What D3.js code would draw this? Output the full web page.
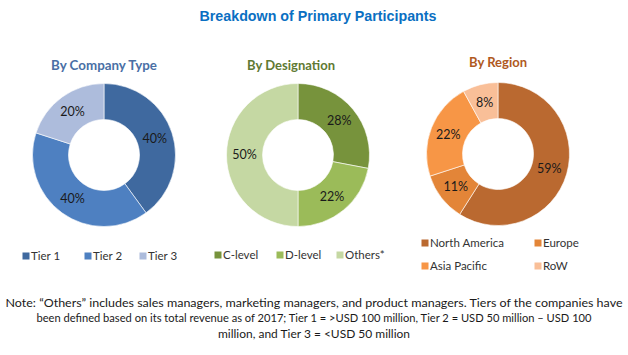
<!DOCTYPE html>
<html><head><meta charset="utf-8">
<script src="https://cdn.jsdelivr.net/npm/d3@7"></script>
<style>
html,body{margin:0;padding:0;background:#fff;}
svg{display:block;}
</style></head>
<body>
<svg id="c" width="628" height="355"></svg>
<script>
const title = "Breakdown of Primary Participants";
const companyCategories = ["Tier 1", "Tier 2", "Tier 3"];
const companyValues = [40, 40, 20];
const designationCategories = ["C-level", "D-level", "Others*"];
const designationValues = [28, 22, 50];
const regionCategories = ["North America", "Europe", "Asia Pacific", "RoW"];
const regionValues = [59, 11, 22, 8];
const noteLines = [
  "Note: \u201cOthers\u201d includes sales managers, marketing managers, and product managers. Tiers of the companies have",
  "been defined based on its total revenue as of 2017; Tier 1 = >USD 100 million, Tier 2 = USD 50 million \u2013 USD 100",
  "million, and Tier 3 = <USD 50 million"
];

const svg = d3.select("#c");
const FONT = "Lato, 'Open Sans', 'Liberation Sans', sans-serif";

svg.append("text").attr("x", 318).attr("y", 21).attr("text-anchor", "middle")
  .attr("font-family", "'Liberation Sans Narrow', 'Liberation Sans', Arial, sans-serif")
  .attr("font-weight", "bold").attr("font-size", 15).attr("fill", "#0a6fc2")
  .attr("textLength", 237).attr("lengthAdjust", "spacingAndGlyphs")
  .text(title);

const charts = [
  {sub: "By Company Type", subColor: "#4a6fa5", subX: 104, subY: 70, subW: 106,
   cx: 104, cy: 155, cats: companyCategories, vals: companyValues,
   colors: ["#3f699f", "#4e80c1", "#adbcdc"],
   legend: [[26, 256], [88, 256], [143, 256]]},
  {sub: "By Designation", subColor: "#5f7a33", subX: 291, subY: 70, subW: 88,
   cx: 298, cy: 155, cats: designationCategories, vals: designationValues,
   colors: ["#77933c", "#9bbb59", "#c5d8a3"],
   legend: [[218, 255], [280, 255], [340, 255]]},
  {sub: "By Region", subColor: "#b0591e", subX: 498, subY: 67, subW: 58,
   cx: 498, cy: 154, cats: regionCategories, vals: regionValues,
   colors: ["#ba6930", "#e38538", "#f79646", "#f9bf98"],
   legend: [[425, 243], [538, 243], [425, 266], [538, 266]]}
];

const pie = d3.pie().sort(null).value(d => d);
const outerR = 71.5, innerR = 35.5;
const arc = d3.arc().innerRadius(innerR).outerRadius(outerR);

charts.forEach(ch => {
  svg.append("text").attr("x", ch.subX).attr("y", ch.subY).attr("text-anchor", "middle")
    .attr("font-family", FONT).attr("font-weight", "bold").attr("font-size", 13)
    .attr("fill", ch.subColor).attr("textLength", ch.subW).attr("lengthAdjust", "spacingAndGlyphs")
    .text(ch.sub);
  const g = svg.append("g").attr("transform", `translate(${ch.cx},${ch.cy})`);
  const arcs = pie(ch.vals);
  g.selectAll("path").data(arcs).join("path")
    .attr("d", arc).attr("fill", (d, i) => ch.colors[i])
    .attr("stroke", "#fff").attr("stroke-width", 0.6);
  g.selectAll("text").data(arcs).join("text")
    .attr("transform", d => `translate(${arc.centroid(d)})`)
    .attr("text-anchor", "middle").attr("dy", "0.35em")
    .attr("font-family", FONT).attr("font-size", 12.5).attr("fill", "#1a1a1a")
    .text(d => d.value + "%");
  const lg = svg.append("g");
  ch.cats.forEach((c, i) => {
    const [x, y] = ch.legend[i];
    lg.append("rect").attr("x", x - 3.5).attr("y", y - 3.5).attr("width", 7).attr("height", 7)
      .attr("fill", ch.colors[i]);
    lg.append("text").attr("x", x + 5).attr("y", y).attr("dy", "0.35em")
      .attr("font-family", FONT).attr("font-size", 11.5).attr("fill", "#333")
      .text(c);
  });
});

const noteY = [303, 318, 334];
const noteW = [617, 555, 192];
noteLines.forEach((t, i) => {
  svg.append("text").attr("x", 314).attr("y", noteY[i]).attr("dy", "0.35em")
    .attr("text-anchor", "middle").attr("font-family", FONT).attr("font-size", 11.5)
    .attr("fill", "#1a1a1a").attr("textLength", noteW[i]).attr("lengthAdjust", "spacingAndGlyphs")
    .text(t);
});
</script>
</body></html>
